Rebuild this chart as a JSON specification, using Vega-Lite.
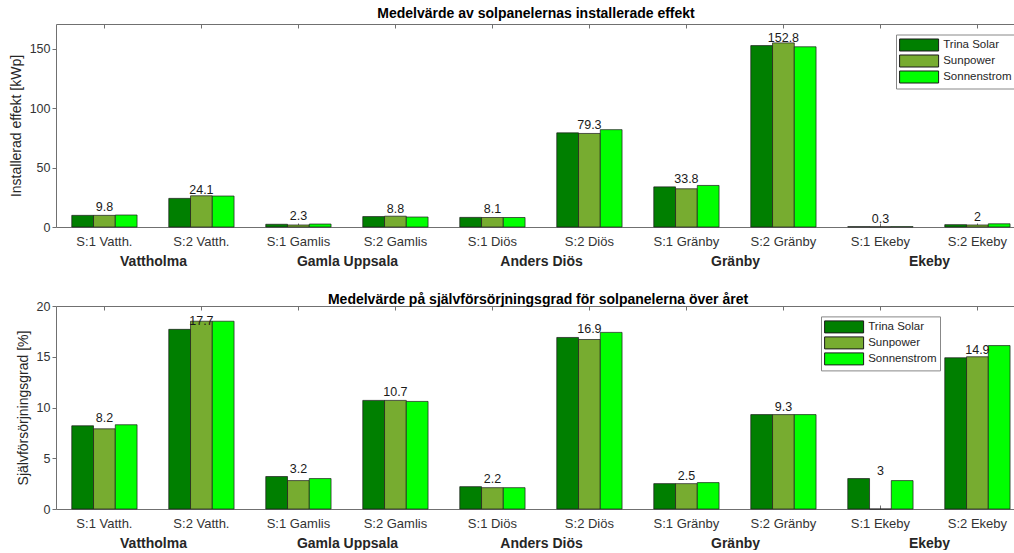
{
  "$schema": "https://vega.github.io/schema/vega-lite/v6.json",
  "padding": {"left": 9, "top": 6, "right": 0, "bottom": 0},
  "config": {
    "font": "Liberation Sans",
    "view": {"stroke": null},
    "axis": {"grid": false, "domainColor": "#707070", "tickColor": "#707070", "labelColor": "#333333", "titleColor": "#262626", "labelFont": "Liberation Sans", "titleFont": "Liberation Sans", "titleFontWeight": "normal"}
  },
  "datasets": {
    "d": [
      {"category": "S:1 Vatth.", "group": "Vattholma", "series": "Trina Solar", "effekt": 9.8, "grad": 8.2},
      {"category": "S:1 Vatth.", "group": "Vattholma", "series": "Sunpower", "effekt": 9.8, "grad": 7.9},
      {"category": "S:1 Vatth.", "group": "Vattholma", "series": "Sonnenstrom", "effekt": 10.1, "grad": 8.3},
      {"category": "S:2 Vatth.", "group": "Vattholma", "series": "Trina Solar", "effekt": 24.1, "grad": 17.7},
      {"category": "S:2 Vatth.", "group": "Vattholma", "series": "Sunpower", "effekt": 26.3, "grad": 18.5},
      {"category": "S:2 Vatth.", "group": "Vattholma", "series": "Sonnenstrom", "effekt": 26.1, "grad": 18.5},
      {"category": "S:1 Gamlis", "group": "Gamla Uppsala", "series": "Trina Solar", "effekt": 2.3, "grad": 3.2},
      {"category": "S:1 Gamlis", "group": "Gamla Uppsala", "series": "Sunpower", "effekt": 1.7, "grad": 2.8},
      {"category": "S:1 Gamlis", "group": "Gamla Uppsala", "series": "Sonnenstrom", "effekt": 2.5, "grad": 3.0},
      {"category": "S:2 Gamlis", "group": "Gamla Uppsala", "series": "Trina Solar", "effekt": 8.8, "grad": 10.7},
      {"category": "S:2 Gamlis", "group": "Gamla Uppsala", "series": "Sunpower", "effekt": 9.1, "grad": 10.7},
      {"category": "S:2 Gamlis", "group": "Gamla Uppsala", "series": "Sonnenstrom", "effekt": 8.4, "grad": 10.6},
      {"category": "S:1 Diös", "group": "Anders Diös", "series": "Trina Solar", "effekt": 8.1, "grad": 2.2},
      {"category": "S:1 Diös", "group": "Anders Diös", "series": "Sunpower", "effekt": 8.0, "grad": 2.1},
      {"category": "S:1 Diös", "group": "Anders Diös", "series": "Sonnenstrom", "effekt": 8.0, "grad": 2.1},
      {"category": "S:2 Diös", "group": "Anders Diös", "series": "Trina Solar", "effekt": 79.3, "grad": 16.9},
      {"category": "S:2 Diös", "group": "Anders Diös", "series": "Sunpower", "effekt": 78.8, "grad": 16.7},
      {"category": "S:2 Diös", "group": "Anders Diös", "series": "Sonnenstrom", "effekt": 82.0, "grad": 17.4},
      {"category": "S:1 Gränby", "group": "Gränby", "series": "Trina Solar", "effekt": 33.8, "grad": 2.5},
      {"category": "S:1 Gränby", "group": "Gränby", "series": "Sunpower", "effekt": 32.2, "grad": 2.5},
      {"category": "S:1 Gränby", "group": "Gränby", "series": "Sonnenstrom", "effekt": 35.0, "grad": 2.6},
      {"category": "S:2 Gränby", "group": "Gränby", "series": "Trina Solar", "effekt": 152.8, "grad": 9.3},
      {"category": "S:2 Gränby", "group": "Gränby", "series": "Sunpower", "effekt": 155.1, "grad": 9.3},
      {"category": "S:2 Gränby", "group": "Gränby", "series": "Sonnenstrom", "effekt": 151.8, "grad": 9.3},
      {"category": "S:1 Ekeby", "group": "Ekeby", "series": "Trina Solar", "effekt": 0.3, "grad": 3},
      {"category": "S:1 Ekeby", "group": "Ekeby", "series": "Sunpower", "effekt": 0.2, "grad": 0},
      {"category": "S:1 Ekeby", "group": "Ekeby", "series": "Sonnenstrom", "effekt": 0.3, "grad": 2.8},
      {"category": "S:2 Ekeby", "group": "Ekeby", "series": "Trina Solar", "effekt": 2, "grad": 14.9},
      {"category": "S:2 Ekeby", "group": "Ekeby", "series": "Sunpower", "effekt": 1.7, "grad": 15.0},
      {"category": "S:2 Ekeby", "group": "Ekeby", "series": "Sonnenstrom", "effekt": 2.7, "grad": 16.1}
    ]
  },
  "spacing": 25,
  "resolve": {"scale": {"color": "independent"}, "legend": {"color": "independent"}},
  "vconcat": [
    {
      "width": 958,
      "height": 203,
      "data": {"name": "d"},
      "title": {"text": "Medelvärde av solpanelernas installerade effekt", "fontSize": 14, "fontWeight": "bold", "offset": 3, "dx": 1, "color": "#000000"},
      "resolve": {"scale": {"x": "independent"}},
      "layer": [
        {
          "mark": {"type": "bar", "stroke": "#1a1a1a", "strokeWidth": 0.7},
          "encoding": {
            "x": {"field": "category", "type": "nominal",
              "scale": {"type": "band", "domain": ["S:1 Vatth.", "S:2 Vatth.", "S:1 Gamlis", "S:2 Gamlis", "S:1 Diös", "S:2 Diös", "S:1 Gränby", "S:2 Gränby", "S:1 Ekeby", "S:2 Ekeby"], "paddingInner": 0.327, "paddingOuter": 0.1016, "align": 0.8},
              "axis": {"orient": "bottom", "title": null, "labelAngle": 0, "labelFontSize": 13, "tickSize": -4, "labelPadding": 12, "domain": true}},
            "xOffset": {"field": "series", "type": "nominal", "scale": {"domain": ["Trina Solar", "Sunpower", "Sonnenstrom"], "paddingInner": 0, "paddingOuter": 0}},
            "y": {"field": "effekt", "type": "quantitative", "scale": {"domain": [0, 171], "nice": false},
              "axis": {"title": "Installerad effekt [kWp]", "values": [0, 50, 100, 150], "tickSize": 4, "labelFontSize": 12.5, "titleFontSize": 14, "titlePadding": 6}},
            "color": {"field": "series", "type": "nominal",
              "scale": {"domain": ["Trina Solar", "Sunpower", "Sonnenstrom"], "range": ["#007f00", "#77ac30", "#00ff00"]},
              "legend": {"orient": "none", "legendX": 840, "legendY": 10.5, "title": null, "fillColor": "white", "strokeColor": "#888888", "padding": 3, "symbolType": "M-2.83,-0.871H2.83V0.871H-2.83Z", "symbolSize": 190, "symbolStrokeColor": "#1a1a1a", "symbolStrokeWidth": 1, "symbolOffset": 12.6, "labelOffset": 16.6, "labelFontSize": 11.5, "labelColor": "#262626", "rowPadding": -1.5}}
          }
        },
        {
          "transform": [{"filter": "datum.series === 'Trina Solar'"}],
          "mark": {"type": "text", "baseline": "bottom", "dy": -1, "fontSize": 12.5, "color": "#1a1a1a"},
          "encoding": {
            "x": {"field": "category", "type": "nominal",
              "scale": {"type": "band", "domain": ["S:1 Vatth.", "S:2 Vatth.", "S:1 Gamlis", "S:2 Gamlis", "S:1 Diös", "S:2 Diös", "S:1 Gränby", "S:2 Gränby", "S:1 Ekeby", "S:2 Ekeby"], "paddingInner": 0.327, "paddingOuter": 0.1016, "align": 0.8},
              "axis": {"orient": "top", "labels": false, "title": null, "tickSize": -4, "domain": true}},
            "y": {"field": "effekt", "type": "quantitative"},
            "text": {"field": "effekt", "type": "quantitative"}
          }
        },
        {
          "transform": [{"filter": "datum.series === 'Trina Solar'"}],
          "mark": {"type": "text", "opacity": 0},
          "encoding": {
            "x": {"field": "group", "type": "nominal",
              "scale": {"type": "point", "domain": ["Vattholma", "Gamla Uppsala", "Anders Diös", "Gränby", "Ekeby"], "padding": 0.469, "align": 0.533},
              "axis": {"orient": "bottom", "title": null, "labelAngle": 0, "ticks": false, "domain": false, "labelFontSize": 14, "labelFontWeight": "bold", "labelPadding": 27, "labelColor": "#262626"}},
            "text": {"value": ""}
          }
        }
      ]
    },
    {
      "width": 958,
      "height": 203,
      "data": {"name": "d"},
      "title": {"text": "Medelvärde på självförsörjningsgrad för solpanelerna över året", "fontSize": 14, "fontWeight": "bold", "offset": -7, "dx": 3, "color": "#000000"},
      "resolve": {"scale": {"x": "independent"}},
      "layer": [
        {
          "mark": {"type": "bar", "stroke": "#1a1a1a", "strokeWidth": 0.7},
          "encoding": {
            "x": {"field": "category", "type": "nominal",
              "scale": {"type": "band", "domain": ["S:1 Vatth.", "S:2 Vatth.", "S:1 Gamlis", "S:2 Gamlis", "S:1 Diös", "S:2 Diös", "S:1 Gränby", "S:2 Gränby", "S:1 Ekeby", "S:2 Ekeby"], "paddingInner": 0.327, "paddingOuter": 0.1016, "align": 0.8},
              "axis": {"orient": "bottom", "title": null, "labelAngle": 0, "labelFontSize": 13, "tickSize": -4, "labelPadding": 12, "domain": true}},
            "xOffset": {"field": "series", "type": "nominal", "scale": {"domain": ["Trina Solar", "Sunpower", "Sonnenstrom"], "paddingInner": 0, "paddingOuter": 0}},
            "y": {"field": "grad", "type": "quantitative", "scale": {"domain": [0, 20], "nice": false},
              "axis": {"title": "Självförsörjningsgrad [%]", "values": [0, 5, 10, 15, 20], "tickSize": 4, "labelFontSize": 12.5, "titleFontSize": 14, "titlePadding": 6}},
            "color": {"field": "series", "type": "nominal",
              "scale": {"domain": ["Trina Solar", "Sunpower", "Sonnenstrom"], "range": ["#007f00", "#77ac30", "#00ff00"]},
              "legend": {"orient": "none", "legendX": 765, "legendY": 10.4, "title": null, "fillColor": "white", "strokeColor": "#888888", "padding": 3, "symbolType": "M-2.83,-0.871H2.83V0.871H-2.83Z", "symbolSize": 190, "symbolStrokeColor": "#1a1a1a", "symbolStrokeWidth": 1, "symbolOffset": 12.6, "labelOffset": 16.6, "labelFontSize": 11.5, "labelColor": "#262626", "rowPadding": -1.5}}
          }
        },
        {
          "transform": [{"filter": "datum.series === 'Trina Solar'"}],
          "mark": {"type": "text", "baseline": "bottom", "dy": -1, "fontSize": 12.5, "color": "#1a1a1a"},
          "encoding": {
            "x": {"field": "category", "type": "nominal",
              "scale": {"type": "band", "domain": ["S:1 Vatth.", "S:2 Vatth.", "S:1 Gamlis", "S:2 Gamlis", "S:1 Diös", "S:2 Diös", "S:1 Gränby", "S:2 Gränby", "S:1 Ekeby", "S:2 Ekeby"], "paddingInner": 0.327, "paddingOuter": 0.1016, "align": 0.8},
              "axis": {"orient": "top", "labels": false, "title": null, "tickSize": -4, "domain": true}},
            "y": {"field": "grad", "type": "quantitative"},
            "text": {"field": "grad", "type": "quantitative"}
          }
        },
        {
          "transform": [{"filter": "datum.series === 'Trina Solar'"}],
          "mark": {"type": "text", "opacity": 0},
          "encoding": {
            "x": {"field": "group", "type": "nominal",
              "scale": {"type": "point", "domain": ["Vattholma", "Gamla Uppsala", "Anders Diös", "Gränby", "Ekeby"], "padding": 0.469, "align": 0.533},
              "axis": {"orient": "bottom", "title": null, "labelAngle": 0, "ticks": false, "domain": false, "labelFontSize": 14, "labelFontWeight": "bold", "labelPadding": 27, "labelColor": "#262626"}},
            "text": {"value": ""}
          }
        }
      ]
    }
  ]
}
